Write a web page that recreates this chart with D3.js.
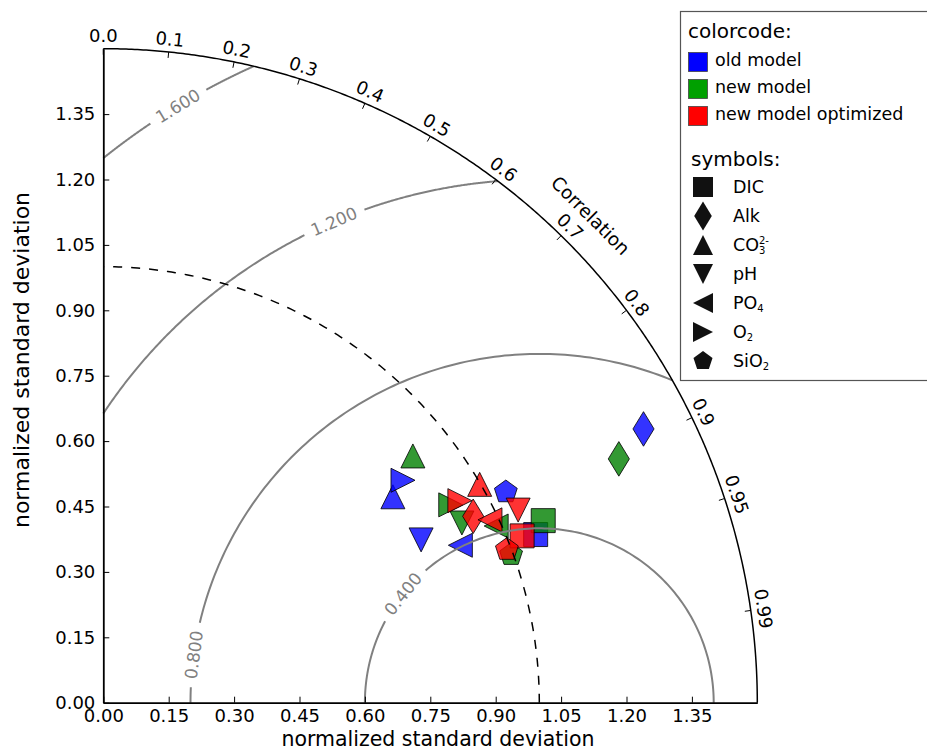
<!DOCTYPE html>
<html>
<head>
<meta charset="utf-8">
<script src="https://cdn.jsdelivr.net/npm/d3@7"></script>
<style>
  html, body { margin: 0; padding: 0; background: #fff; }
  svg { display: block; font-family: "DejaVu Sans", sans-serif; }
</style>
</head>
<body>
<svg id="chart" width="927" height="751"></svg>
<script>
// Taylor diagram: normalized standard deviation (radius) vs. correlation (angle)

const variables = ["DIC", "Alk", "CO3", "pH", "PO4", "O2", "SiO2"];
const shapes = ["square", "thin_diamond", "triangle_up", "triangle_down", "triangle_left", "triangle_right", "pentagon"];
const models = ["old model", "new model", "new model optimized"];
const modelColors = ["#0000ff", "#008000", "#ff0000"];
const swatchColors = ["#0000ff", "#00a000", "#ff0000"];

const stdOld  = [1.064, 1.389, 0.815, 0.819, 0.895, 0.856, 1.042];
const corrOld = [0.932, 0.892, 0.815, 0.890, 0.915, 0.803, 0.886];
const stdNew  = [1.092, 1.308, 0.908, 0.920, 0.988, 0.917, 0.995];
const corrNew = [0.924, 0.904, 0.782, 0.894, 0.912, 0.869, 0.940];
const stdOpt  = [1.034, 0.950, 0.998, 1.049, 0.981, 0.940, 0.990];
const corrOpt = [0.929, 0.893, 0.865, 0.907, 0.904, 0.870, 0.935];

const stdTicks = [0.00, 0.15, 0.30, 0.45, 0.60, 0.75, 0.90, 1.05, 1.20, 1.35];
const corrTicks = [0.0, 0.1, 0.2, 0.3, 0.4, 0.5, 0.6, 0.7, 0.8, 0.9, 0.95, 0.99];
const corrTickLabels = ["0.0", "0.1", "0.2", "0.3", "0.4", "0.5", "0.6", "0.7", "0.8", "0.9", "0.95", "0.99"];
const rmsLevels = [0.4, 0.8, 1.2, 1.6];
const refStd = 1.0;
const stdMax = 1.5;

// where each RMS contour carries its inline label (angle around the reference point, degrees)
const rmsLabelAngles = [141.4, 172.1, 113.1, 121.2];

const svg = d3.select("#chart");
const x0 = 103.3, y0 = 702.7, radiusPx = 654;

const x = d3.scaleLinear().domain([0, stdMax]).range([x0, x0 + radiusPx]);
const y = d3.scaleLinear().domain([0, stdMax]).range([y0, y0 - radiusPx]);
const r = d3.scaleLinear().domain([0, stdMax]).range([0, radiusPx]);

const line = d3.line().x(d => x(d[0])).y(d => y(d[1]));

function polar(std, corr) {
  const th = Math.acos(corr);
  return [std * Math.cos(th), std * Math.sin(th)];
}

// marker shapes centred on (0,0), s = nominal size in px
function markerPath(shape, s) {
  const h = s / 2;
  switch (shape) {
    case "square": return `M${-h},${-h}H${h}V${h}H${-h}Z`;
    case "thin_diamond": {
      const w = s * 0.44, t = s * 0.72;
      return `M0,${-t}L${w},0L0,${t}L${-w},0Z`;
    }
    case "triangle_up": return `M0,${-h}L${h},${h}L${-h},${h}Z`;
    case "triangle_down": return `M0,${h}L${h},${-h}L${-h},${-h}Z`;
    case "triangle_left": return `M${-h},0L${h},${-h}L${h},${h}Z`;
    case "triangle_right": return `M${h},0L${-h},${-h}L${-h},${h}Z`;
    case "pentagon": {
      const pts = d3.range(5).map(i => {
        const a = -Math.PI / 2 + i * 2 * Math.PI / 5;
        return [h * Math.cos(a), h * Math.sin(a)];
      });
      return "M" + pts.map(p => p[0].toFixed(2) + "," + p[1].toFixed(2)).join("L") + "Z";
    }
  }
}

// ---- samples ----
const modelStd = [stdOld, stdNew, stdOpt];
const modelCorr = [corrOld, corrNew, corrOpt];
const gSamples = svg.append("g");
models.forEach((m, mi) => {
  variables.forEach((v, vi) => {
    const p = polar(modelStd[mi][vi], modelCorr[mi][vi]);
    gSamples.append("path")
      .attr("d", markerPath(shapes[vi], 24))
      .attr("transform", `translate(${x(p[0])},${y(p[1])})`)
      .attr("fill", modelColors[mi])
      .attr("fill-opacity", 0.8)
      .attr("stroke", "#000")
      .attr("stroke-opacity", 0.8)
      .attr("stroke-width", 1);
  });
});

// ---- RMS difference contours around the reference point ----
const gRms = svg.append("g");
const fmt3 = d3.format(".3f");
const labelFont = 17;
rmsLevels.forEach((lev, li) => {
  // clip each circle to the quarter disc
  let phiMax = Math.PI;
  if (refStd - lev < 0) phiMax = Math.acos(-refStd / lev);
  let phiMin = 0;
  if (refStd + lev > stdMax) {
    const xi = (refStd * refStd - lev * lev + stdMax * stdMax) / (2 * refStd);
    const yi = Math.sqrt(stdMax * stdMax - xi * xi);
    phiMin = Math.atan2(yi, xi - refStd);
  }
  const phiL = rmsLabelAngles[li] * Math.PI / 180;
  const label = fmt3(lev);
  const textLen = label.length * 0.58 * labelFont;
  const gapHalf = (textLen / 2 + 8) / r(lev);
  const seg = (a, b) => {
    const n = 120;
    return d3.range(n + 1).map(i => {
      const ph = a + (b - a) * i / n;
      return [refStd + lev * Math.cos(ph), lev * Math.sin(ph)];
    });
  };
  [[phiMin, phiL - gapHalf], [phiL + gapHalf, phiMax]].forEach(([a, b]) => {
    if (b > a) {
      gRms.append("path").attr("d", line(seg(a, b)))
        .attr("fill", "none").attr("stroke", "#808080").attr("stroke-width", 2);
    }
  });
  const lx = refStd + lev * Math.cos(phiL), ly = lev * Math.sin(phiL);
  gRms.append("text")
    .attr("transform", `translate(${x(lx)},${y(ly)}) rotate(${90 - rmsLabelAngles[li]})`)
    .attr("text-anchor", "middle")
    .attr("dominant-baseline", "central")
    .attr("font-size", labelFont)
    .attr("fill", "#808080")
    .text(label);
});

// ---- reference standard deviation (dashed) ----
svg.append("path")
  .attr("d", line(d3.range(181).map(i => {
    const th = (Math.PI / 2) * i / 180;
    return [refStd * Math.cos(th), refStd * Math.sin(th)];
  })))
  .attr("fill", "none").attr("stroke", "#000").attr("stroke-width", 1.5)
  .attr("stroke-dasharray", "9,9");

// ---- outer arc with correlation ticks ----
svg.append("path")
  .attr("d", line(d3.range(361).map(i => {
    const th = (Math.PI / 2) * i / 360;
    return [stdMax * Math.cos(th), stdMax * Math.sin(th)];
  })))
  .attr("fill", "none").attr("stroke", "#000").attr("stroke-width", 1.5);

const gCorr = svg.append("g");
corrTicks.forEach((c, i) => {
  const th = Math.acos(c);
  const ca = Math.cos(th), sa = Math.sin(th);
  gCorr.append("line")
    .attr("x1", x0 + radiusPx * ca).attr("y1", y0 - radiusPx * sa)
    .attr("x2", x0 + (radiusPx - 6) * ca).attr("y2", y0 - (radiusPx - 6) * sa)
    .attr("stroke", "#000").attr("stroke-width", 1);
  const rl = radiusPx + 13;
  gCorr.append("text")
    .attr("transform", `translate(${x0 + rl * ca},${y0 - rl * sa}) rotate(${90 - th * 180 / Math.PI})`)
    .attr("text-anchor", "middle")
    .attr("dominant-baseline", "central")
    .attr("font-size", 18)
    .text(corrTickLabels[i]);
});
{
  const th = Math.PI / 4, rl = radiusPx + 35;
  gCorr.append("text")
    .attr("transform", `translate(${x0 + rl * Math.cos(th)},${y0 - rl * Math.sin(th)}) rotate(45)`)
    .attr("text-anchor", "middle")
    .attr("dominant-baseline", "central")
    .attr("font-size", 18.5)
    .text("Correlation");
}

// ---- cartesian std axes ----
const fmt2 = d3.format(".2f");
const xAxis = d3.axisBottom(x).tickValues(stdTicks).tickFormat(fmt2)
  .tickSizeInner(-6).tickSizeOuter(0).tickPadding(7);
const yAxis = d3.axisLeft(y).tickValues(stdTicks).tickFormat(fmt2)
  .tickSizeInner(-6).tickSizeOuter(0).tickPadding(8);

const gx = svg.append("g").attr("transform", `translate(0,${y0})`).call(xAxis);
const gy = svg.append("g").attr("transform", `translate(${x0},0)`).call(yAxis);
[gx, gy].forEach(g => {
  g.attr("font-family", "DejaVu Sans, sans-serif").attr("font-size", 18);
  g.select(".domain").attr("stroke-width", 1.8);
  g.selectAll(".tick line").attr("stroke-width", 1);
  g.selectAll(".tick text").attr("fill", "#000");
});

svg.append("text")
  .attr("x", 438).attr("y", 746)
  .attr("text-anchor", "middle").attr("font-size", 20.5)
  .text("normalized standard deviation");
svg.append("text")
  .attr("transform", `translate(29,360) rotate(-90)`)
  .attr("text-anchor", "middle").attr("font-size", 22)
  .text("normalized standard deviation");

// ---- legend ----
const gLeg = svg.append("g");
gLeg.append("rect")
  .attr("x", 680.5).attr("y", 11.5).attr("width", 270).attr("height", 369)
  .attr("fill", "#fff").attr("stroke", "#555").attr("stroke-width", 1.2);

gLeg.append("text").attr("x", 688).attr("y", 38).attr("font-size", 20).text("colorcode:");
models.forEach((m, i) => {
  const cy = 62 + i * 27;
  gLeg.append("rect")
    .attr("x", 688.5).attr("y", cy - 9.5).attr("width", 19).attr("height", 19)
    .attr("fill", swatchColors[i]).attr("stroke", "#444").attr("stroke-width", 0.8);
  gLeg.append("text").attr("x", 715).attr("y", cy + 4).attr("font-size", 17.5).text(m);
});

gLeg.append("text").attr("x", 691).attr("y", 166).attr("font-size", 20).text("symbols:");

// symbol labels: [main text, subscript, superscript]
const symbolLabels = [["DIC", "", ""], ["Alk", "", ""], ["CO", "3", "2-"], ["pH", "", ""],
                      ["PO", "4", ""], ["O", "2", ""], ["SiO", "2", ""]];
variables.forEach((v, i) => {
  const cy = 187 + i * 29;
  gLeg.append("path")
    .attr("d", markerPath(shapes[i], 20))
    .attr("transform", `translate(703,${cy})`)
    .attr("fill", "#111");
  const [main, sub, sup] = symbolLabels[i];
  const t = gLeg.append("text").attr("x", 733).attr("y", cy + 6).attr("font-size", 17.5).text(main);
  const w = t.node().getComputedTextLength();
  if (sub) gLeg.append("text").attr("x", 733 + w).attr("y", cy + 9).attr("font-size", 10).text(sub);
  if (sup) gLeg.append("text").attr("x", 733 + w).attr("y", cy - 1).attr("font-size", 10).text(sup);
});
</script>
</body>
</html>
